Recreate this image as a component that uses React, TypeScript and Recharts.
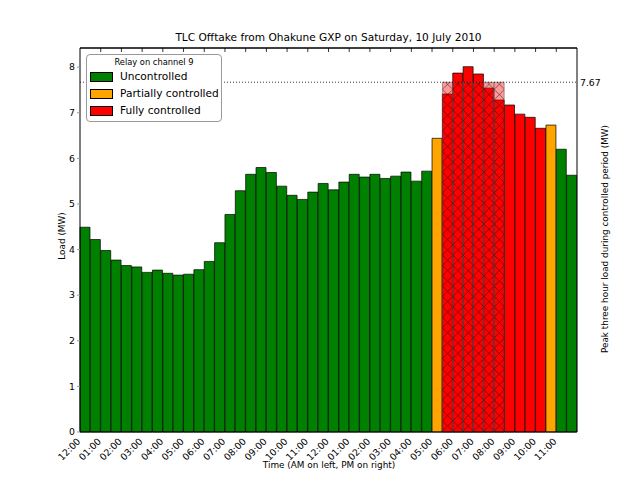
import React from "react";
import { BarChart, Bar, Cell, XAxis, YAxis, ReferenceLine } from "recharts";

// half-hour slots, 12:00 AM through 11:30 PM
const slots = [
  "00:00", "00:30", "01:00", "01:30", "02:00", "02:30", "03:00", "03:30",
  "04:00", "04:30", "05:00", "05:30", "06:00", "06:30", "07:00", "07:30",
  "08:00", "08:30", "09:00", "09:30", "10:00", "10:30", "11:00", "11:30",
  "12:00", "12:30", "13:00", "13:30", "14:00", "14:30", "15:00", "15:30",
  "16:00", "16:30", "17:00", "17:30", "18:00", "18:30", "19:00", "19:30",
  "20:00", "20:30", "21:00", "21:30", "22:00", "22:30", "23:00", "23:30",
];

// load in MW
const loads = [
  4.49, 4.22, 3.98, 3.77, 3.65, 3.62, 3.5, 3.55, 3.48, 3.44, 3.46, 3.56,
  3.74, 4.15, 4.77, 5.29, 5.65, 5.8, 5.69, 5.39, 5.19, 5.1, 5.26, 5.45,
  5.31, 5.48, 5.65, 5.59, 5.65, 5.56, 5.61, 5.7, 5.5, 5.72, 6.44, 7.41,
  7.87, 8.01, 7.85, 7.54, 7.28, 7.17, 6.97, 6.9, 6.66, 6.73, 6.2, 5.63,
];

// relay state: U = uncontrolled, P = partially, F = fully controlled
const relay = [
  "U", "U", "U", "U", "U", "U", "U", "U", "U", "U", "U", "U",
  "U", "U", "U", "U", "U", "U", "U", "U", "U", "U", "U", "U",
  "U", "U", "U", "U", "U", "U", "U", "U", "U", "U", "P", "F",
  "F", "F", "F", "F", "F", "F", "F", "F", "F", "P", "U", "U",
];

// slots that make up the peak three hour window
const peakSlots = ["17:30", "18:00", "18:30", "19:00", "19:30", "20:00"];
const peakLoad = 7.67;

const hourTicks = [
  "12:00", "01:00", "02:00", "03:00", "04:00", "05:00",
  "06:00", "07:00", "08:00", "09:00", "10:00", "11:00",
  "12:00", "01:00", "02:00", "03:00", "04:00", "05:00",
  "06:00", "07:00", "08:00", "09:00", "10:00", "11:00",
];

const loadTicks = [0, 1, 2, 3, 4, 5, 6, 7, 8];

const legendItems = [
  { key: "U", label: "Uncontrolled" },
  { key: "P", label: "Partially controlled" },
  { key: "F", label: "Fully controlled" },
];

const colors: Record<string, string> = { U: "#008000", P: "#ffa500", F: "#ff0000" };

const FONT = "'DejaVu Sans', sans-serif";
const PLOT_L = 80;
const PLOT_R = 577;
const PLOT_T = 48;
const PLOT_B = 432;
const BAND = (PLOT_R - PLOT_L) / slots.length;
const Y_MAX = 8.42;

const rows = slots.map((slot, i) => ({
  slot,
  load: loads[i],
  state: relay[i],
  peak: peakSlots.includes(slot) ? peakLoad : null,
}));

function HourTick(props: any) {
  const { x, payload } = props;
  const hour = Number(String(payload.value).slice(0, 2));
  const tx = x - BAND / 2 + 1;
  return (
    <text
      transform={`translate(${tx},${PLOT_B + 10}) rotate(-45)`}
      textAnchor="end"
      fontSize={9.3}
      fontFamily={FONT}
      fill="#000"
    >
      {hourTicks[hour]}
    </text>
  );
}

function TopTick(props: any) {
  const { x, payload } = props;
  if (!payload || payload.index === 0) return <g />;
  const tx = x - BAND / 2;
  return <line x1={tx} x2={tx} y1={PLOT_T} y2={PLOT_T + 4} stroke="#000" strokeWidth={0.8} />;
}

function AxisTitle(props: any) {
  const { px, py, deg, caption } = props;
  return (
    <text
      transform={`translate(${px},${py}) rotate(${deg})`}
      textAnchor="middle"
      dominantBaseline="central"
      fontSize={8.9}
      fontFamily={FONT}
      fill="#000"
    >
      {caption}
    </text>
  );
}

export default function App() {
  return (
    <div
      style={{
        position: "absolute",
        left: 0,
        top: 0,
        width: 640,
        height: 480,
        background: "#fff",
        fontFamily: FONT,
      }}
    >
      <BarChart
        width={640}
        height={480}
        data={rows}
        margin={{ top: PLOT_T - 1, right: 0, bottom: 0, left: 0 }}
        barCategoryGap={0}
        barGap={0}
      >
        <defs>
          <pattern
            id="xhatch"
            patternUnits="userSpaceOnUse"
            x={PLOT_L}
            y={PLOT_T}
            width={BAND}
            height={BAND}
          >
            <rect width={BAND} height={BAND} fill="rgba(255,0,0,0.4)" />
            <path
              d={`M0,0 L${BAND},${BAND} M${BAND},0 L0,${BAND}`}
              stroke="#000"
              strokeWidth={0.6}
              strokeOpacity={0.75}
            />
          </pattern>
        </defs>
        <XAxis
          xAxisId="bottom"
          dataKey="slot"
          interval={1}
          height={480 - PLOT_B}
          tick={<HourTick />}
          tickLine={false}
          axisLine={{ stroke: "#000" }}
          label={
            <AxisTitle px={329} py={465} deg={0} caption="Time (AM on left, PM on right)" />
          }
        />
        <XAxis
          xAxisId="top"
          orientation="top"
          dataKey="slot"
          interval={1}
          height={1}
          tick={<TopTick />}
          tickLine={false}
          axisLine={{ stroke: "#000" }}
        />
        <YAxis
          yAxisId="left"
          width={PLOT_L}
          domain={[0, Y_MAX]}
          ticks={loadTicks}
          tickSize={3}
          tickMargin={2}
          tick={{ fontSize: 9.3, fill: "#000", fontFamily: FONT }}
          tickLine={{ stroke: "#999" }}
          axisLine={{ stroke: "#000" }}
          label={<AxisTitle px={62} py={236} deg={-90} caption="Load (MW)" />}
        />
        <YAxis
          yAxisId="right"
          orientation="right"
          width={640 - PLOT_R}
          domain={[0, Y_MAX]}
          ticks={[peakLoad]}
          tickSize={0}
          tickMargin={3}
          tickLine={false}
          tick={{ fontSize: 9.3, fill: "#000", fontFamily: FONT }}
          axisLine={{ stroke: "#000" }}
          label={
            <AxisTitle
              px={605}
              py={239}
              deg={-90}
              caption="Peak three hour load during controlled period (MW)"
            />
          }
        />
        <Bar
          dataKey="load"
          xAxisId="bottom"
          yAxisId="left"
          stroke="#000"
          strokeWidth={0.7}
          isAnimationActive={false}
        >
          {rows.map((r) => (
            <Cell key={r.slot} fill={colors[r.state]} />
          ))}
        </Bar>
        <Bar
          dataKey="peak"
          xAxisId="top"
          yAxisId="right"
          fill="url(#xhatch)"
          stroke="#555"
          strokeWidth={0.5}
          isAnimationActive={false}
        />
        <ReferenceLine
          xAxisId="bottom"
          yAxisId="left"
          y={peakLoad}
          stroke="#000"
          strokeWidth={0.8}
          strokeDasharray="1 2"
        />
        <ReferenceLine
          xAxisId="bottom"
          yAxisId="left"
          y={Y_MAX}
          stroke="#000"
          strokeWidth={1}
        />
      </BarChart>

      <div
        style={{
          position: "absolute",
          left: 0,
          top: 29,
          width: 657,
          textAlign: "center",
          fontSize: 10.6,
          color: "#000",
          lineHeight: "16px",
        }}
      >
        TLC Offtake from Ohakune GXP on Saturday, 10 July 2010
      </div>

      <div
        style={{
          position: "absolute",
          left: 86,
          top: 54,
          width: 134,
          height: 66,
          border: "1px solid #999",
          borderRadius: 4,
          background: "#fff",
        }}
      >
        <div
          style={{
            fontSize: 8.3,
            textAlign: "center",
            marginTop: 2,
            lineHeight: "11px",
          }}
        >
          Relay on channel 9
        </div>
        {legendItems.map((item) => (
          <div
            key={item.key}
            style={{
              display: "flex",
              alignItems: "center",
              height: 17,
              marginLeft: 3,
            }}
          >
            <div
              style={{
                width: 21,
                height: 8,
                background: colors[item.key],
                border: "1px solid #000",
                marginRight: 7,
              }}
            />
            <span style={{ fontSize: 10.6, lineHeight: "17px" }}>{item.label}</span>
          </div>
        ))}
      </div>
    </div>
  );
}
